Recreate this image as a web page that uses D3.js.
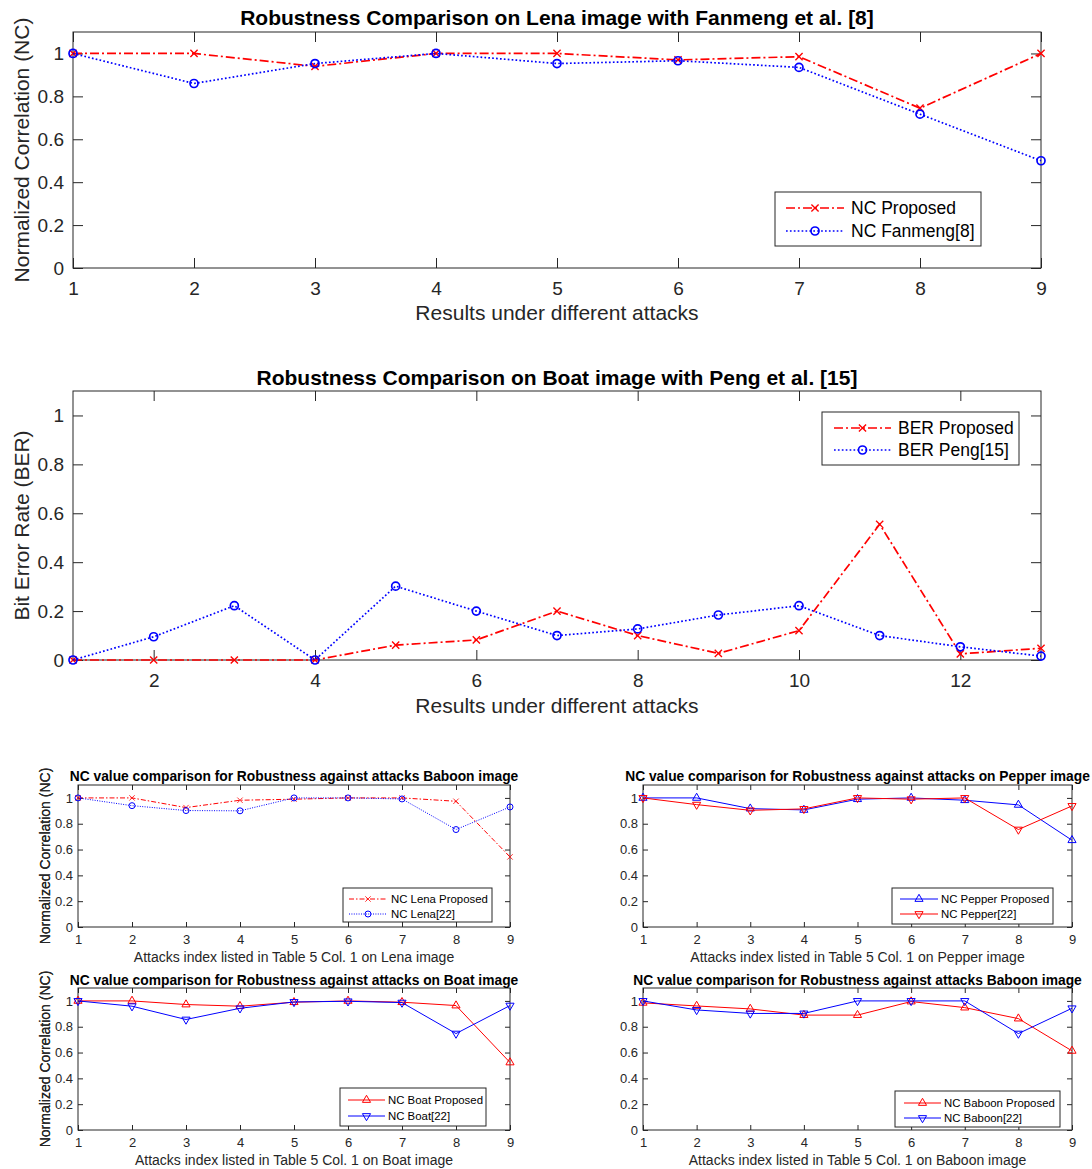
<!DOCTYPE html>
<html>
<head>
<meta charset="utf-8">
<script src="https://cdn.jsdelivr.net/npm/d3@7"></script>
<style>
  body { margin: 0; background: #fff; }
  text { font-family: "Liberation Sans", Arial, Helvetica, sans-serif; }
</style>
</head>
<body>
<svg id="fig" width="1092" height="1169"></svg>
<script>
// ---- data ----
var attacks9 = [1, 2, 3, 4, 5, 6, 7, 8, 9];
var attacks13 = [1, 2, 3, 4, 5, 6, 7, 8, 9, 10, 11, 12, 13];
var ncTicks = [0, 0.2, 0.4, 0.6, 0.8, 1];
var berXTicks = [2, 4, 6, 8, 10, 12];

var ncProposedLena = [1.0, 1.0, 0.94, 1.0, 1.0, 0.97, 0.985, 0.745, 1.0];
var ncFanmeng = [1.0, 0.86, 0.953, 1.0, 0.953, 0.966, 0.935, 0.717, 0.5];

var berProposed = [0, 0, 0, 0, 0.061, 0.082, 0.2, 0.1, 0.027, 0.12, 0.555, 0.025, 0.048];
var berPeng = [0, 0.095, 0.222, 0, 0.302, 0.2, 0.1, 0.127, 0.184, 0.222, 0.1, 0.054, 0.016];

var ncLenaProposed = [1.0, 1.0, 0.925, 0.982, 0.99, 1.0, 1.0, 0.974, 0.543];
var ncLena22 = [1.0, 0.94, 0.902, 0.9, 1.0, 1.0, 0.992, 0.755, 0.93];
var ncPepperProposed = [1.0, 1.0, 0.917, 0.907, 0.99, 1.0, 0.982, 0.946, 0.672];
var ncPepper22 = [1.0, 0.948, 0.904, 0.915, 1.0, 0.99, 1.0, 0.755, 0.938];
var ncBoatProposed = [1.0, 1.0, 0.972, 0.959, 0.99, 1.0, 0.99, 0.964, 0.523];
var ncBoat22 = [1.0, 0.959, 0.856, 0.943, 0.992, 0.997, 0.987, 0.747, 0.964];
var ncBaboonProposed = [0.985, 0.961, 0.938, 0.89, 0.89, 0.995, 0.948, 0.863, 0.613];
var ncBaboon22 = [1.0, 0.93, 0.903, 0.903, 1.0, 1.0, 1.0, 0.747, 0.943];

var RED = "#ff0000", BLUE = "#0000ff", AX = "#262626";
var svg = d3.select("#fig");

// big panels use thicker lines / fonts, small ones thinner
var bigStyle = { tick: 10, font: 19, label: 21, title: 21, legend: 17.5, lw: 1.7, ms: 4,
                 dashdot: "9,3,2,3", dot: "1.7,2.2", ylabX: 22, tickPad: 9 };
var smallStyle = { tick: 5, font: 13, label: 14, title: 13.8, legend: 11.4, lw: 1, ms: 3,
                   dashdot: "5,2,1.5,2", dot: "1,1.4", ylabX: 45, tickPad: 5 };

var panels = [
  { st: bigStyle, left: 73, right: 1041, top: 32, bottom: 268, xs: attacks9, xTicks: attacks9,
    title: "Robustness Comparison on Lena image with Fanmeng et al. [8]", titleY: 25,
    ylabel: "Normalized Correlation (NC)", xlabel: "Results under different attacks", xlabY: 320,
    series: [
      { name: "NC Proposed", v: ncProposedLena, color: RED, dash: "dashdot", mk: "x" },
      { name: "NC Fanmeng[8]", v: ncFanmeng, color: BLUE, dash: "dot", mk: "o" }],
    legend: { x: 775, y: 192, w: 206, h: 54, l1: 786, l2: 844, tx: 851, ys: [208, 231] } },
  { st: bigStyle, left: 73, right: 1041, top: 391, bottom: 660, xs: attacks13, xTicks: berXTicks,
    title: "Robustness Comparison on Boat image with Peng et al. [15]", titleY: 385,
    ylabel: "Bit Error Rate (BER)", xlabel: "Results under different attacks", xlabY: 713,
    series: [
      { name: "BER Proposed", v: berProposed, color: RED, dash: "dashdot", mk: "x" },
      { name: "BER Peng[15]", v: berPeng, color: BLUE, dash: "dot", mk: "o" }],
    legend: { x: 822, y: 412, w: 197, h: 53, l1: 834, l2: 891, tx: 898, ys: [428, 450] } },
  { st: smallStyle, left: 78, right: 510, top: 785, bottom: 927, xs: attacks9, xTicks: attacks9,
    title: "NC value comparison for Robustness against attacks Baboon image", titleY: 781,
    ylabel: "Normalized Correlation (NC)", xlabel: "Attacks index listed in Table 5 Col. 1 on Lena image", xlabY: 962,
    series: [
      { name: "NC Lena Proposed", v: ncLenaProposed, color: RED, dash: "dashdot", mk: "x" },
      { name: "NC Lena[22]", v: ncLena22, color: BLUE, dash: "dot", mk: "o" }],
    legend: { x: 343, y: 888, w: 149, h: 34, l1: 349, l2: 387, tx: 391, ys: [899, 914] } },
  { st: smallStyle, left: 643, right: 1072, top: 785, bottom: 927, xs: attacks9, xTicks: attacks9,
    title: "NC value comparison for Robustness against attacks on Pepper image", titleY: 781,
    ylabel: "Normalized Correlation (NC)", xlabel: "Attacks index listed in Table 5 Col. 1 on Pepper image", xlabY: 962,
    series: [
      { name: "NC Pepper Proposed", v: ncPepperProposed, color: BLUE, dash: null, mk: "^" },
      { name: "NC Pepper[22]", v: ncPepper22, color: RED, dash: null, mk: "v" }],
    legend: { x: 892, y: 888, w: 161, h: 36, l1: 900, l2: 938, tx: 941, ys: [899, 914] } },
  { st: smallStyle, left: 78, right: 510, top: 988, bottom: 1130, xs: attacks9, xTicks: attacks9,
    title: "NC value comparison for Robustness against attacks on Boat image", titleY: 985,
    ylabel: "Normalized Correlation (NC)", xlabel: "Attacks index listed in Table 5 Col. 1 on Boat image", xlabY: 1165,
    series: [
      { name: "NC Boat Proposed", v: ncBoatProposed, color: RED, dash: null, mk: "^" },
      { name: "NC Boat[22]", v: ncBoat22, color: BLUE, dash: null, mk: "v" }],
    legend: { x: 340, y: 1088, w: 146, h: 38, l1: 348, l2: 385, tx: 388, ys: [1100, 1116] } },
  { st: smallStyle, left: 643, right: 1072, top: 988, bottom: 1130, xs: attacks9, xTicks: attacks9,
    title: "NC value comparison for Robustness against attacks Baboon image", titleY: 985,
    ylabel: "Normalized Correlation (NC)", xlabel: "Attacks index listed in Table 5 Col. 1 on Baboon image", xlabY: 1165,
    series: [
      { name: "NC Baboon Proposed", v: ncBaboonProposed, color: RED, dash: null, mk: "^" },
      { name: "NC Baboon[22]", v: ncBaboon22, color: BLUE, dash: null, mk: "v" }],
    legend: { x: 895, y: 1091, w: 165, h: 36, l1: 904, l2: 941, tx: 944, ys: [1103, 1118] } }
];

function drawMarker(sel, mk, cx, cy, r, color, lw) {
  if (mk === "o") {
    sel.append("circle").attr("cx", cx).attr("cy", cy).attr("r", r)
      .attr("fill", "none").attr("stroke", color).attr("stroke-width", lw);
  } else if (mk === "x") {
    var s = r * 0.9;
    sel.append("path")
      .attr("d", "M" + (cx - s) + "," + (cy - s) + "L" + (cx + s) + "," + (cy + s) +
                 "M" + (cx - s) + "," + (cy + s) + "L" + (cx + s) + "," + (cy - s))
      .attr("stroke", color).attr("stroke-width", lw * 0.8).attr("fill", "none");
  } else {
    var tri = d3.symbol().type(d3.symbolTriangle).size(r * r * 3.2);
    sel.append("path").attr("d", tri())
      .attr("transform", "translate(" + cx + "," + cy + ")" + (mk === "v" ? " rotate(180)" : ""))
      .attr("fill", "none").attr("stroke", color).attr("stroke-width", lw);
  }
}

function drawPanel(p) {
  var st = p.st;
  var x = d3.scaleLinear().domain([p.xs[0], p.xs[p.xs.length - 1]]).range([p.left, p.right]);
  var y = d3.scaleLinear().domain([0, 1.1]).range([p.bottom, p.top]);
  var g = svg.append("g");

  // axes with inward ticks, mirrored on top/right like MATLAB box
  var xb = g.append("g").attr("transform", "translate(0," + p.bottom + ")")
    .call(d3.axisBottom(x).tickValues(p.xTicks).tickSize(-st.tick).tickPadding(st.tickPad).tickFormat(d3.format("d")));
  var xt = g.append("g").attr("transform", "translate(0," + p.top + ")")
    .call(d3.axisTop(x).tickValues(p.xTicks).tickSize(-st.tick).tickFormat(""));
  var yl = g.append("g").attr("transform", "translate(" + p.left + ",0)")
    .call(d3.axisLeft(y).tickValues(ncTicks).tickSize(-st.tick).tickPadding(st.tickPad).tickFormat(d3.format("~g")));
  var yr = g.append("g").attr("transform", "translate(" + p.right + ",0)")
    .call(d3.axisRight(y).tickValues(ncTicks).tickSize(-st.tick).tickFormat(""));
  [xb, xt, yl, yr].forEach(function (a) {
    a.select(".domain").remove();
    a.selectAll("line").attr("stroke", AX).attr("stroke-width", 1);
    a.selectAll("text").attr("fill", AX).style("font-size", st.font + "px");
  });
  xb.selectAll("text").attr("dy", "0.95em");

  g.append("rect").attr("x", p.left).attr("y", p.top)
    .attr("width", p.right - p.left).attr("height", p.bottom - p.top)
    .attr("fill", "none").attr("stroke", AX).attr("stroke-width", 1);

  // title and labels
  g.append("text").attr("x", (p.left + p.right) / 2).attr("y", p.titleY)
    .attr("text-anchor", "middle").style("font-weight", "bold").style("font-size", st.title + "px")
    .attr("fill", "#000").text(p.title);
  g.append("text").attr("x", (p.left + p.right) / 2).attr("y", p.xlabY)
    .attr("text-anchor", "middle").style("font-size", st.label + "px").attr("fill", AX).text(p.xlabel);
  g.append("text")
    .attr("transform", "translate(" + st.ylabX + "," + ((p.top + p.bottom) / 2) + ") rotate(-90)")
    .attr("text-anchor", "middle").attr("dy", "0.35em").style("font-size", st.label + "px")
    .attr("fill", AX).text(p.ylabel);

  // series
  var line = d3.line().x(function (d, i) { return x(p.xs[i]); }).y(function (d) { return y(d); });
  p.series.forEach(function (s) {
    g.append("path").datum(s.v).attr("d", line)
      .attr("fill", "none").attr("stroke", s.color).attr("stroke-width", st.lw)
      .attr("stroke-dasharray", s.dash ? st[s.dash] : null);
    var mg = g.append("g");
    s.v.forEach(function (d, i) { drawMarker(mg, s.mk, x(p.xs[i]), y(d), st.ms, s.color, st.lw); });
  });

  // legend
  var L = p.legend;
  g.append("rect").attr("x", L.x).attr("y", L.y).attr("width", L.w).attr("height", L.h)
    .attr("fill", "#fff").attr("stroke", AX).attr("stroke-width", 1);
  p.series.forEach(function (s, i) {
    var ly = L.ys[i];
    g.append("line").attr("x1", L.l1).attr("x2", L.l2).attr("y1", ly).attr("y2", ly)
      .attr("stroke", s.color).attr("stroke-width", st.lw)
      .attr("stroke-dasharray", s.dash ? st[s.dash] : null);
    drawMarker(g, s.mk, (L.l1 + L.l2) / 2, ly, st.ms, s.color, st.lw);
    g.append("text").attr("x", L.tx).attr("y", ly).attr("dy", "0.35em")
      .style("font-size", st.legend + "px").attr("fill", "#000").text(s.name);
  });
}

panels.forEach(drawPanel);
</script>
</body>
</html>
